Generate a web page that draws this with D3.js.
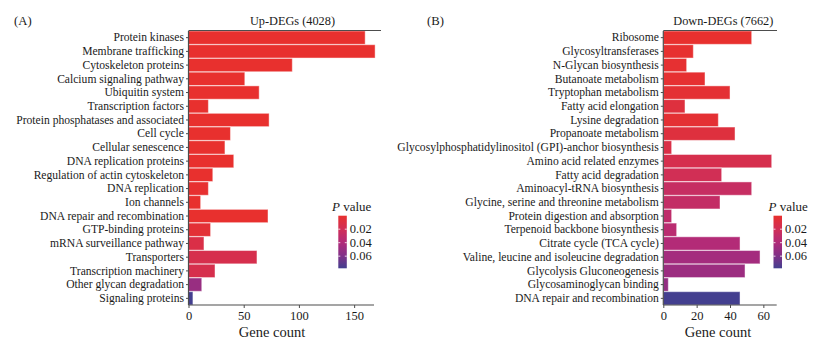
<!DOCTYPE html>
<html>
<head>
<meta charset="utf-8">
<script src="https://cdn.jsdelivr.net/npm/d3@7"></script>
<style>
  body { margin: 0; background: #fff; }
  text { font-family: "Liberation Serif", "Times New Roman", serif; fill: #1a1a1a; }
</style>
</head>
<body>
<svg id="chart" width="823" height="351"></svg>
<script>
// Up-regulated pathways (panel A)
const upTerms = ["Protein kinases", "Membrane trafficking", "Cytoskeleton proteins", "Calcium signaling pathway",
  "Ubiquitin system", "Transcription factors", "Protein phosphatases and associated", "Cell cycle",
  "Cellular senescence", "DNA replication proteins", "Regulation of actin cytoskeleton", "DNA replication",
  "Ion channels", "DNA repair and recombination", "GTP-binding proteins", "mRNA surveillance pathway",
  "Transporters", "Transcription machinery", "Other glycan degradation", "Signaling proteins"];
const upCounts = [160, 169, 94, 51, 64, 18, 73, 38, 33, 41, 22, 18, 11, 72, 20, 14, 62, 24, 12, 4];
const upPvals = [0.0, 0.0, 0.0, 0.0, 0.0, 0.0, 0.0, 0.0, 0.0, 0.0, 0.0, 0.001, 0.0, 0.0, 0.004, 0.012, 0.015, 0.015, 0.05, 0.078];

// Down-regulated pathways (panel B)
const downTerms = ["Ribosome", "Glycosyltransferases", "N-Glycan biosynthesis", "Butanoate metabolism",
  "Tryptophan metabolism", "Fatty acid elongation", "Lysine degradation", "Propanoate metabolism",
  "Glycosylphosphatidylinositol (GPI)-anchor biosynthesis", "Amino acid related enzymes", "Fatty acid degradation",
  "Aminoacyl-tRNA biosynthesis", "Glycine, serine and threonine metabolism", "Protein digestion and absorption",
  "Terpenoid backbone biosynthesis", "Citrate cycle (TCA cycle)", "Valine, leucine and isoleucine degradation",
  "Glycolysis Gluconeogenesis", "Glycosaminoglycan binding", "DNA repair and recombination"];
const downCounts = [53, 18, 14, 25, 40, 13, 33, 43, 5, 65, 35, 53, 34, 5, 8, 46, 58, 49, 3, 46];
const downPvals = [0.0, 0.001, 0.002, 0.002, 0.003, 0.008, 0.003, 0.008, 0.012, 0.015, 0.019, 0.026, 0.028, 0.031, 0.034, 0.038, 0.045, 0.048, 0.052, 0.078];

const legendTicks = [0.02, 0.04, 0.06];

const svg = d3.select("#chart");
const axisColor = "#4d4d4d";

const color = d3.scaleLinear()
  .domain([0, 0.02, 0.04, 0.06, 0.078])
  .range(["#e8302e", "#d02f57", "#b02a7a", "#7f3188", "#433f8f"]);

function drawPanel(opt) {
  const x = d3.scaleLinear().domain([0, opt.xMax]).range([opt.x0, opt.x1]);
  const y = d3.scaleBand().domain(opt.terms).range([31, 305]).paddingInner(0.03);

  const data = opt.terms.map((t, i) => ({ term: t, count: opt.counts[i], p: opt.pvals[i] }));

  const g = svg.append("g");

  // bars
  g.selectAll("rect.bar")
    .data(data)
    .enter().append("rect")
    .attr("class", "bar")
    .attr("x", x(0))
    .attr("y", d => y(d.term))
    .attr("width", d => x(d.count) - x(0))
    .attr("height", y.bandwidth())
    .attr("fill", d => color(d.p))
    .attr("stroke", "rgba(255,255,255,0.45)")
    .attr("stroke-width", 1);

  // left axis with category labels
  const ya = g.append("g")
    .attr("transform", `translate(${x(0)},0)`)
    .call(d3.axisLeft(y).tickSize(2.5).tickPadding(2));
  ya.select(".domain").remove();
  ya.selectAll("line").attr("stroke", axisColor);
  ya.selectAll("text")
    .style("font-family", "'Liberation Serif', serif")
    .style("font-size", "11.6px")
    .attr("fill", "#1a1a1a");

  g.append("line")
    .attr("x1", x(0)).attr("x2", x(0))
    .attr("y1", 31).attr("y2", 305)
    .attr("stroke", axisColor).attr("stroke-width", 1.2);

  // bottom axis
  const xa = g.append("g")
    .attr("transform", "translate(0,305)")
    .call(d3.axisBottom(x).tickValues(opt.ticks).tickSize(3).tickPadding(3));
  xa.select(".domain").attr("stroke", axisColor).attr("stroke-width", 1.2)
    .attr("d", `M${x(0)},0H${opt.x1}`);
  xa.selectAll("line").attr("stroke", axisColor);
  xa.selectAll("text")
    .style("font-family", "'Liberation Serif', serif")
    .style("font-size", "12.5px")
    .attr("fill", "#1a1a1a");

  // strip line + title
  g.append("line")
    .attr("x1", x(0)).attr("x2", opt.stripEnd)
    .attr("y1", 30.5).attr("y2", 30.5)
    .attr("stroke", axisColor).attr("stroke-width", 1.2);
  g.append("text")
    .attr("x", opt.titleX).attr("y", 25)
    .attr("text-anchor", "middle")
    .style("font-size", "12.3px")
    .text(opt.title);
  g.append("text")
    .attr("x", opt.tagX).attr("y", 25)
    .style("font-size", "12.7px")
    .text(opt.tag);

  g.append("text")
    .attr("x", opt.xLabelX).attr("y", 337)
    .attr("text-anchor", "middle")
    .style("font-size", "14.5px")
    .text("Gene count");

  // colour legend
  const ly = d3.scaleLinear().domain([0, 0.078]).range([215.7, 268.3]);
  const defs = svg.append("defs");
  const gradId = "grad" + opt.tag.replace(/[()]/g, "");
  const grad = defs.append("linearGradient")
    .attr("id", gradId)
    .attr("x1", 0).attr("x2", 0).attr("y1", 0).attr("y2", 1);
  d3.range(0, 1.0001, 0.05).forEach(t => {
    grad.append("stop").attr("offset", t).attr("stop-color", color(t * 0.078));
  });
  g.append("rect")
    .attr("x", opt.legX).attr("y", ly(0))
    .attr("width", 8.5).attr("height", ly(0.078) - ly(0))
    .attr("fill", `url(#${gradId})`);
  legendTicks.forEach(v => {
    g.append("line").attr("x1", opt.legX).attr("x2", opt.legX + 2)
      .attr("y1", ly(v)).attr("y2", ly(v)).attr("stroke", "#fff").attr("stroke-width", 0.8);
    g.append("line").attr("x1", opt.legX + 6.5).attr("x2", opt.legX + 8.5)
      .attr("y1", ly(v)).attr("y2", ly(v)).attr("stroke", "#fff").attr("stroke-width", 0.8);
    g.append("text")
      .attr("x", opt.legX + 11.5).attr("y", ly(v) + 4.3)
      .style("font-size", "12.5px")
      .text(d3.format(".2f")(v));
  });
  const lt = g.append("text")
    .attr("x", opt.legTitleX).attr("y", 211)
    .style("font-size", "13px");
  lt.append("tspan").style("font-style", "italic").text("P");
  lt.append("tspan").text(" value");
}

drawPanel({
  terms: upTerms, counts: upCounts, pvals: upPvals,
  x0: 188.5, x1: 374, xMax: 168, ticks: [0, 50, 100, 150],
  stripEnd: 381, title: "Up-DEGs (4028)", titleX: 292.5, tag: "(A)", tagX: 14,
  xLabelX: 272, legX: 338.3, legTitleX: 332
});

drawPanel({
  terms: downTerms, counts: downCounts, pvals: downPvals,
  x0: 663.3, x1: 776.7, xMax: 68, ticks: [0, 20, 40, 60],
  stripEnd: 777, title: "Down-DEGs (7662)", titleX: 723.3, tag: "(B)", tagX: 427,
  xLabelX: 718, legX: 773.5, legTitleX: 768.5
});
</script>
</body>
</html>
